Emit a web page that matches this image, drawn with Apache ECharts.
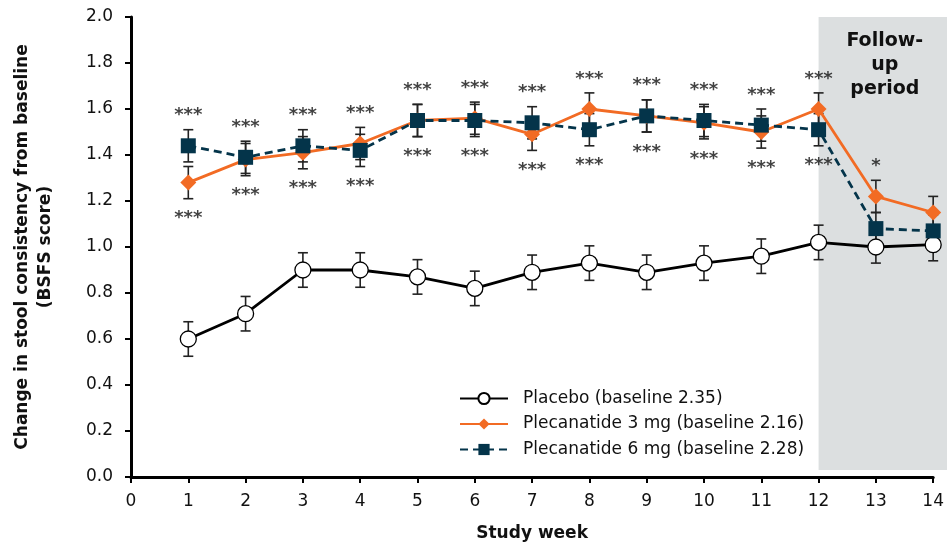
<!DOCTYPE html>
<html>
<head>
<meta charset="utf-8">
<script src="https://cdn.jsdelivr.net/npm/echarts@6/dist/echarts.min.js"></script>
<style>
  html, body { margin: 0; padding: 0; background: #fff; }
  #chart { width: 947px; height: 547px; }
</style>
</head>
<body>
<div id="chart"></div>
<script>
// study weeks
var weeks = [1, 2, 3, 4, 5, 6, 7, 8, 9, 10, 11, 12, 13, 14];

// mean change from baseline (BSFS score)
var placebo = [0.60, 0.71, 0.90, 0.90, 0.87, 0.82, 0.89, 0.93, 0.89, 0.93, 0.96, 1.02, 1.00, 1.01];
var plec3 = [1.28, 1.38, 1.41, 1.45, 1.55, 1.56, 1.49, 1.60, 1.57, 1.54, 1.50, 1.60, 1.22, 1.15];
var plec6 = [1.44, 1.39, 1.44, 1.42, 1.55, 1.55, 1.54, 1.51, 1.57, 1.55, 1.53, 1.51, 1.08, 1.07];

// standard errors
var placeboErr = [0.075, 0.075, 0.075, 0.075, 0.075, 0.075, 0.075, 0.075, 0.075, 0.075, 0.075, 0.075, 0.07, 0.07];
var plec3Err = [0.07, 0.07, 0.07, 0.07, 0.07, 0.07, 0.07, 0.07, 0.07, 0.07, 0.07, 0.07, 0.07, 0.07];
var plec6Err = [0.07, 0.07, 0.07, 0.07, 0.07, 0.07, 0.07, 0.07, 0.07, 0.07, 0.07, 0.07, 0.07, 0.07];

// significance marks above / below the active arms
var sigAbove = ['***', '***', '***', '***', '***', '***', '***', '***', '***', '***', '***', '***', '*', ''];
var sigBelow = ['***', '***', '***', '***', '***', '***', '***', '***', '***', '***', '***', '***', '', ''];

var seriesNames = ['Placebo (baseline 2.35)', 'Plecanatide 3 mg (baseline 2.16)', 'Plecanatide 6 mg (baseline 2.28)'];
var followUpStart = 12;

var ORANGE = '#F26B24';
var NAVY = '#04344A';
var FONT = '"DejaVu Sans", "Liberation Sans", sans-serif';

function pairs(ys) {
    return weeks.map(function (w, i) { return [w, ys[i]]; });
}
function errData(ys, es) {
    return weeks.map(function (w, i) { return [w, ys[i], es[i]]; });
}

function errorBars(ys, es) {
    return {
        type: 'custom',
        z: 3,
        silent: true,
        data: errData(ys, es),
        renderItem: function (params, api) {
            var x = api.value(0), m = api.value(1), e = api.value(2);
            var hi = api.coord([x, m + e]);
            var lo = api.coord([x, m - e]);
            var cw = 5;
            var st = { stroke: '#222', lineWidth: 1.6 };
            return {
                type: 'group',
                children: [
                    { type: 'line', shape: { x1: hi[0], y1: hi[1], x2: lo[0], y2: lo[1] }, style: st },
                    { type: 'line', shape: { x1: hi[0] - cw, y1: hi[1], x2: hi[0] + cw, y2: hi[1] }, style: st },
                    { type: 'line', shape: { x1: lo[0] - cw, y1: lo[1], x2: lo[0] + cw, y2: lo[1] }, style: st }
                ]
            };
        }
    };
}

var upper = weeks.map(function (w, i) { return [w, Math.max(plec3[i] + plec3Err[i], plec6[i] + plec6Err[i])]; });
var lower = weeks.map(function (w, i) { return [w, Math.min(plec3[i] - plec3Err[i], plec6[i] - plec6Err[i])]; });

var myChart = echarts.init(document.getElementById('chart'));
var option = {
    animation: false,
    backgroundColor: '#fff',
    textStyle: { fontFamily: FONT },
    grid: { left: 131, right: 11, top: 17, bottom: 69, containLabel: false },
    legend: {
        data: seriesNames,
        orient: 'vertical',
        left: 454,
        top: 385,
        itemWidth: 48,
        itemHeight: 14,
        itemGap: 8.5,
        textStyle: { fontSize: 17, color: '#111', fontFamily: FONT, padding: [0, 0, 0, 10] }
    },
    xAxis: {
        type: 'value',
        min: 0,
        max: 14,
        interval: 1,
        name: 'Study week',
        nameLocation: 'middle',
        nameGap: 48,
        nameTextStyle: { fontSize: 17, fontWeight: 'bold', color: '#111' },
        axisLine: { lineStyle: { color: '#000', width: 3 } },
        axisTick: { length: 6, lineStyle: { color: '#000', width: 2 } },
        axisLabel: { fontSize: 17, color: '#111', margin: 16 },
        splitLine: { show: false }
    },
    yAxis: {
        type: 'value',
        min: 0,
        max: 2,
        interval: 0.2,
        name: 'Change in stool consistency from baseline\n(BSFS score)',
        nameLocation: 'middle',
        nameGap: 74,
        nameTextStyle: { fontSize: 17, fontWeight: 'bold', color: '#111', lineHeight: 23 },
        axisLine: { show: true, lineStyle: { color: '#000', width: 3 } },
        axisTick: { show: true, length: 6, lineStyle: { color: '#000', width: 2 } },
        axisLabel: {
            fontSize: 17, color: '#111', margin: 18,
            formatter: function (v) { return v.toFixed(1); }
        },
        splitLine: { show: false }
    },
    series: [
        {
            // follow-up shaded band
            type: 'custom',
            z: 0,
            silent: true,
            data: [[followUpStart, 2.0, 0.03]],
            renderItem: function (params, api) {
                var tl = api.coord([api.value(0), api.value(1)]);
                var bl = api.coord([api.value(0), api.value(2)]);
                var right = api.getWidth();
                return {
                    type: 'group',
                    children: [
                        {
                            type: 'rect',
                            shape: { x: tl[0], y: tl[1], width: right - tl[0], height: bl[1] - tl[1] },
                            style: { fill: '#DCDFE0' }
                        },
                        {
                            type: 'text',
                            x: (tl[0] + right) / 2 + 2,
                            y: tl[1] + 12,
                            style: {
                                text: 'Follow-\nup\nperiod',
                                fontSize: 19,
                                fontWeight: 'bold',
                                fontFamily: FONT,
                                lineHeight: 24,
                                fill: '#111',
                                align: 'center',
                                verticalAlign: 'top'
                            }
                        }
                    ]
                };
            }
        },
        errorBars(placebo, placeboErr),
        errorBars(plec3, plec3Err),
        errorBars(plec6, plec6Err),
        {
            name: seriesNames[0],
            type: 'line',
            z: 4,
            data: pairs(placebo),
            symbol: 'circle',
            symbolSize: 16,
            lineStyle: { color: '#000', width: 2.8 },
            itemStyle: { color: '#fff', borderColor: '#000', borderWidth: 1.3 }
        },
        {
            name: seriesNames[1],
            type: 'line',
            z: 5,
            data: pairs(plec3),
            symbol: 'diamond',
            symbolSize: 16,
            lineStyle: { color: ORANGE, width: 2.8 },
            itemStyle: { color: ORANGE }
        },
        {
            name: seriesNames[2],
            type: 'line',
            z: 6,
            data: pairs(plec6),
            symbol: 'rect',
            symbolSize: 15,
            lineStyle: { color: NAVY, width: 2.8, type: [8, 5] },
            itemStyle: { color: NAVY }
        },
        {
            type: 'scatter',
            z: 7,
            silent: true,
            data: upper,
            symbolSize: 0,
            label: {
                show: true,
                position: 'top',
                distance: 5,
                fontSize: 18,
                fontWeight: 'bold',
                fontFamily: FONT,
                color: '#111',
                formatter: function (p) { return sigAbove[p.dataIndex]; }
            }
        },
        {
            type: 'scatter',
            z: 7,
            silent: true,
            data: lower,
            symbolSize: 0,
            label: {
                show: true,
                position: 'bottom',
                distance: 11,
                fontSize: 18,
                fontWeight: 'bold',
                fontFamily: FONT,
                color: '#111',
                formatter: function (p) { return sigBelow[p.dataIndex]; }
            }
        }
    ]
};
myChart.setOption(option);
</script>
</body>
</html>
